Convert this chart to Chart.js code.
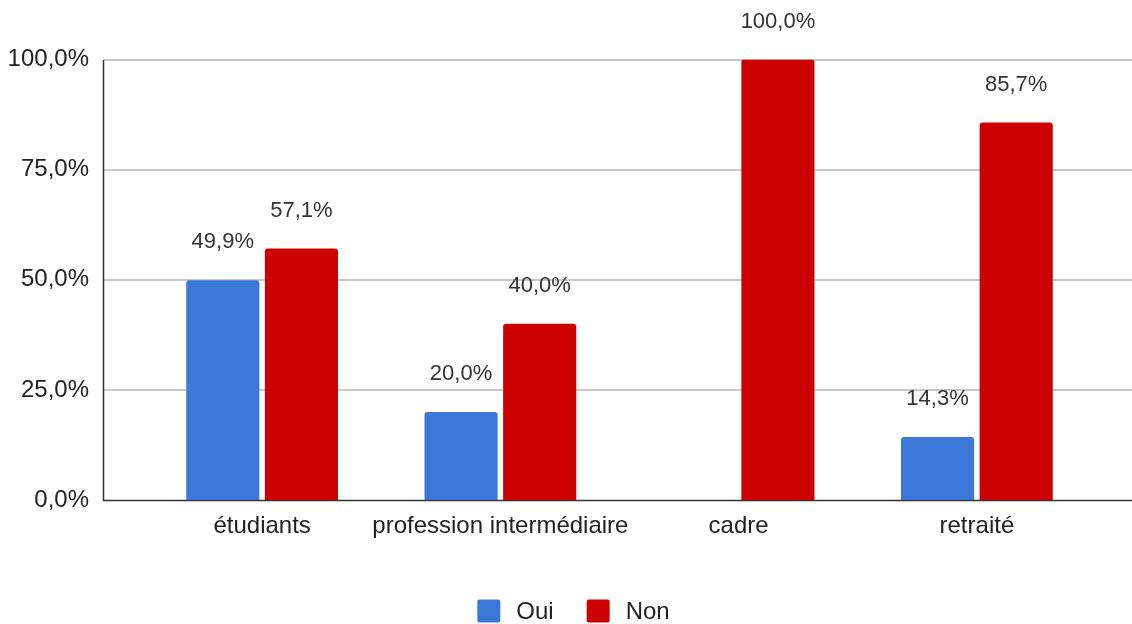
<!DOCTYPE html>
<html>
<head>
<meta charset="utf-8">
<script src="https://cdn.jsdelivr.net/npm/chart.js@4"></script>
<style>
  html, body { margin: 0; padding: 0; background: #ffffff; }
  #chart { display: block; }
</style>
</head>
<body>
<canvas id="chart" width="1132" height="624"></canvas>
<script>
// categories and series values
const categories = ['étudiants', 'profession intermédiaire', 'cadre', 'retraité'];
const ouiValues = [49.9, 20.0, 0, 14.3];
const nonValues = [57.1, 40.0, 100.0, 85.7];
const yTicks = [0, 25, 50, 75, 100];

const colors = {
  oui: '#3c78d8',
  non: '#cc0000',
  grid: '#c8c8c8',
  axis: '#333333',
  text: '#222222',
  label: '#333333'
};
const FONT = "'Liberation Sans', Arial, Helvetica, sans-serif";
const AXIS_SIZE = 24;
const LABEL_SIZE = 22;

function pct(v) {
  return v.toFixed(1).replace('.', ',') + '%';
}

// grid lines and axis lines that run past the category area, like the original
const frameLines = {
  id: 'frameLines',
  beforeDatasetsDraw(chart) {
    const ctx = chart.ctx;
    const y = chart.scales.y;
    const axisX = 103.5;
    ctx.save();
    yTicks.forEach(t => {
      if (t === 0) return;
      const py = Math.round(y.getPixelForValue(t));
      ctx.fillStyle = colors.grid;
      ctx.fillRect(axisX, py - 1, chart.width - axisX, 2);
    });
    const top = Math.round(y.getPixelForValue(100));
    const base = Math.round(y.getPixelForValue(0)) + 0.5;
    ctx.strokeStyle = colors.axis;
    ctx.lineWidth = 1.5;
    ctx.beginPath();
    ctx.moveTo(axisX, top);
    ctx.lineTo(axisX, base);
    ctx.lineTo(chart.width, base);
    ctx.stroke();
    ctx.restore();
  }
};

// value labels above each bar
const valueLabels = {
  id: 'valueLabels',
  afterDatasetsDraw(chart) {
    const ctx = chart.ctx;
    ctx.save();
    ctx.font = LABEL_SIZE + 'px ' + FONT;
    ctx.fillStyle = colors.label;
    ctx.textAlign = 'center';
    ctx.textBaseline = 'middle';
    chart.data.datasets.forEach((ds, di) => {
      const meta = chart.getDatasetMeta(di);
      meta.data.forEach((bar, i) => {
        const v = ds.data[i];
        if (!v) return;
        ctx.fillText(pct(v), bar.x, bar.y - 38);
      });
    });
    ctx.restore();
  }
};

// legend at the bottom with square swatches
const bottomLegend = {
  id: 'bottomLegend',
  afterDraw(chart) {
    const ctx = chart.ctx;
    const box = 23;
    const gap = 16;
    const itemGap = 33;
    const cy = 611;
    ctx.save();
    ctx.font = AXIS_SIZE + 'px ' + FONT;
    const items = chart.data.datasets.map(ds => ({
      text: ds.label,
      color: ds.backgroundColor,
      w: ctx.measureText(ds.label).width
    }));
    let total = 0;
    items.forEach((it, i) => {
      total += box + gap + it.w + (i < items.length - 1 ? itemGap : 0);
    });
    let x = 573.5 - total / 2;
    ctx.textBaseline = 'middle';
    ctx.textAlign = 'left';
    items.forEach(it => {
      ctx.fillStyle = it.color;
      ctx.beginPath();
      ctx.roundRect(x, cy - box / 2, box, box, 2);
      ctx.fill();
      ctx.fillStyle = colors.text;
      ctx.fillText(it.text, x + box + gap, cy + 1);
      x += box + gap + it.w + itemGap;
    });
    ctx.restore();
  }
};

new Chart(document.getElementById('chart'), {
  type: 'bar',
  data: {
    labels: categories,
    datasets: [
      {
        label: 'Oui',
        data: ouiValues,
        backgroundColor: colors.oui,
        borderRadius: 3,
        categoryPercentage: 0.66,
        barPercentage: 0.93
      },
      {
        label: 'Non',
        data: nonValues,
        backgroundColor: colors.non,
        borderRadius: 3,
        categoryPercentage: 0.66,
        barPercentage: 0.93
      }
    ]
  },
  options: {
    responsive: false,
    animation: false,
    devicePixelRatio: 1,
    layout: { padding: { top: 59.5, right: 36, bottom: 0, left: 0 } },
    plugins: {
      legend: { display: false },
      title: { display: false },
      tooltip: { enabled: false }
    },
    scales: {
      x: {
        grid: { display: false },
        border: { display: false },
        ticks: {
          color: colors.text,
          font: { family: FONT, size: AXIS_SIZE },
          padding: 4,
          maxRotation: 0,
          autoSkip: false
        },
        afterFit(scale) { scale.height = 124; }
      },
      y: {
        min: 0,
        max: 100,
        // tick marks are hidden; their length only pushes the labels left
        grid: { display: false, drawTicks: true, tickLength: 50 },
        border: { display: false },
        ticks: {
          stepSize: 25,
          color: colors.text,
          font: { family: FONT, size: AXIS_SIZE },
          padding: 4,
          callback: v => pct(v)
        },
        afterFit(scale) { scale.width = 143; }
      }
    }
  },
  plugins: [frameLines, valueLabels, bottomLegend]
});
</script>
</body>
</html>
